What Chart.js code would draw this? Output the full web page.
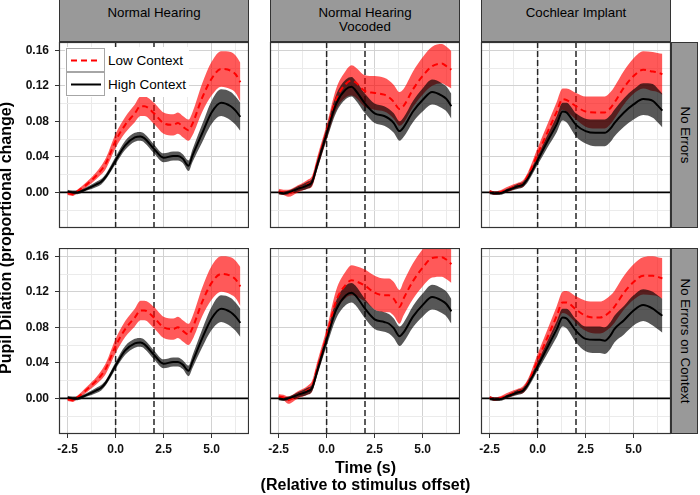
<!DOCTYPE html>
<html>
<head>
<meta charset="utf-8">
<script src="https://cdn.jsdelivr.net/npm/chart.js@4.4.0/dist/chart.umd.min.js"></script>
<style>
  html, body { margin: 0; padding: 0; background: #fff; }
  #wrap { position: relative; width: 700px; height: 495px; overflow: hidden; font-family: "Liberation Sans", Arial, sans-serif; color: #000; }
  #wrap canvas { position: absolute; }
  .strip { position: absolute; background: #999; border: 1px solid #333; box-sizing: border-box; font-size: 13.3px; line-height: 14px; text-align: center; }
  .rstrip-text { position: absolute; width: 180px; height: 14px; font-size: 13.3px; line-height: 14px; text-align: center; transform: rotate(90deg); white-space: nowrap; }
  .title { position: absolute; font-size: 16px; font-weight: bold; line-height: 17px; text-align: center; white-space: nowrap; }
  .legend-text { position: absolute; font-size: 13.5px; line-height: 16px; white-space: nowrap; }
</style>
</head>
<body>
<div id="wrap"></div>
<script>
// time axis (s, relative to stimulus offset) shared by every curve
const timePoints = [-2.5, -2.25, -2, -1.5, -1, -0.75, -0.5, 0, 0.5, 1, 1.3, 1.5, 2, 2.5, 3, 3.25, 3.5, 3.8, 4, 4.5, 5, 5.5, 6, 6.25, 6.5];

// Normal Hearing
const nhLowNoErr  = [-0.001, -0.002, 0.001, 0.009, 0.019, 0.025, 0.033, 0.058, 0.076, 0.089, 0.097, 0.097, 0.089, 0.078, 0.076, 0.078, 0.074, 0.070, 0.077, 0.106, 0.128, 0.139, 0.137, 0.133, 0.124];
const nhHighNoErr = [0.001, 0.000, 0.000, 0.004, 0.009, 0.012, 0.018, 0.036, 0.053, 0.062, 0.063, 0.061, 0.049, 0.039, 0.041, 0.041, 0.038, 0.030, 0.041, 0.066, 0.090, 0.101, 0.097, 0.092, 0.085];
const nhLowCtx    = [-0.001, -0.002, 0.001, 0.010, 0.020, 0.026, 0.034, 0.059, 0.078, 0.091, 0.099, 0.099, 0.091, 0.080, 0.078, 0.080, 0.076, 0.072, 0.079, 0.108, 0.130, 0.140, 0.138, 0.134, 0.126];
const nhHighCtx   = [0.001, 0.000, 0.000, 0.004, 0.009, 0.012, 0.018, 0.037, 0.054, 0.062, 0.063, 0.061, 0.049, 0.039, 0.041, 0.041, 0.038, 0.031, 0.041, 0.067, 0.090, 0.101, 0.097, 0.092, 0.085];
const nhLowSE     = [0.002, 0.002, 0.002, 0.003, 0.004, 0.005, 0.006, 0.008, 0.009, 0.010, 0.011, 0.011, 0.012, 0.012, 0.012, 0.012, 0.012, 0.012, 0.013, 0.016, 0.019, 0.020, 0.021, 0.021, 0.022];
const nhHighSE    = [0.002, 0.002, 0.002, 0.002, 0.003, 0.003, 0.003, 0.004, 0.005, 0.005, 0.005, 0.005, 0.005, 0.005, 0.005, 0.005, 0.005, 0.006, 0.007, 0.010, 0.013, 0.015, 0.016, 0.016, 0.016];

// Normal Hearing Vocoded
const nhvLowNoErr  = [0.001, 0.000, -0.001, 0.004, 0.009, 0.013, 0.032, 0.068, 0.105, 0.122, 0.126, 0.124, 0.114, 0.112, 0.110, 0.107, 0.102, 0.094, 0.097, 0.116, 0.131, 0.142, 0.145, 0.142, 0.138];
const nhvHighNoErr = [0.000, -0.001, 0.000, 0.004, 0.008, 0.012, 0.030, 0.066, 0.100, 0.116, 0.119, 0.115, 0.100, 0.089, 0.086, 0.083, 0.078, 0.069, 0.073, 0.091, 0.104, 0.113, 0.109, 0.105, 0.097];
const nhvLowCtx    = [0.002, 0.001, -0.002, 0.004, 0.009, 0.014, 0.033, 0.070, 0.110, 0.128, 0.133, 0.132, 0.127, 0.119, 0.116, 0.116, 0.112, 0.103, 0.112, 0.132, 0.147, 0.158, 0.159, 0.156, 0.151];
const nhvHighCtx   = [0.000, -0.001, 0.000, 0.004, 0.008, 0.012, 0.030, 0.066, 0.100, 0.116, 0.119, 0.116, 0.101, 0.089, 0.086, 0.084, 0.079, 0.070, 0.074, 0.092, 0.105, 0.114, 0.110, 0.106, 0.098];
const nhvLowSE     = [0.003, 0.003, 0.004, 0.004, 0.005, 0.006, 0.007, 0.008, 0.012, 0.015, 0.017, 0.017, 0.018, 0.019, 0.019, 0.019, 0.019, 0.019, 0.019, 0.020, 0.021, 0.022, 0.022, 0.022, 0.021];
const nhvHighSE    = [0.002, 0.002, 0.002, 0.003, 0.004, 0.004, 0.005, 0.007, 0.010, 0.011, 0.011, 0.011, 0.011, 0.011, 0.011, 0.011, 0.011, 0.011, 0.011, 0.012, 0.013, 0.014, 0.014, 0.014, 0.014];

// Cochlear Implant
const ciLowNoErr  = [0.001, -0.001, 0.000, 0.004, 0.008, 0.010, 0.019, 0.043, 0.067, 0.091, 0.105, 0.104, 0.097, 0.091, 0.090, 0.090, 0.090, 0.095, 0.101, 0.118, 0.131, 0.138, 0.136, 0.135, 0.133];
const ciHighNoErr = [0.000, -0.001, -0.001, 0.003, 0.007, 0.009, 0.016, 0.036, 0.057, 0.077, 0.091, 0.090, 0.076, 0.069, 0.067, 0.067, 0.067, 0.072, 0.078, 0.090, 0.099, 0.105, 0.103, 0.098, 0.092];
const ciLowCtx    = [0.001, -0.001, 0.000, 0.004, 0.008, 0.010, 0.018, 0.043, 0.068, 0.093, 0.108, 0.108, 0.100, 0.093, 0.091, 0.091, 0.093, 0.098, 0.103, 0.119, 0.131, 0.138, 0.138, 0.137, 0.135];
const ciHighCtx   = [0.000, -0.001, -0.001, 0.003, 0.007, 0.009, 0.016, 0.036, 0.057, 0.078, 0.091, 0.090, 0.076, 0.067, 0.066, 0.066, 0.065, 0.071, 0.078, 0.088, 0.099, 0.105, 0.101, 0.097, 0.093];
const ciLowSE     = [0.002, 0.002, 0.002, 0.003, 0.003, 0.004, 0.004, 0.007, 0.009, 0.011, 0.012, 0.013, 0.015, 0.017, 0.018, 0.018, 0.018, 0.018, 0.018, 0.019, 0.020, 0.021, 0.022, 0.022, 0.023];
const ciHighSE    = [0.002, 0.002, 0.002, 0.002, 0.003, 0.003, 0.004, 0.005, 0.007, 0.009, 0.010, 0.011, 0.013, 0.014, 0.015, 0.015, 0.015, 0.015, 0.015, 0.016, 0.017, 0.018, 0.019, 0.019, 0.019];

const colLabels = [['Normal Hearing'], ['Normal Hearing', 'Vocoded'], ['Cochlear Implant']];
const rowLabels = ['No Errors', 'No Errors on Context'];
const seriesNames = ['Low Context', 'High Context'];

const xMajor = [-2.5, 0, 2.5, 5];
const xMinor = [-1.25, 1.25, 3.75, 6.25];
const xTickLabels = ['-2.5', '0.0', '2.5', '5.0'];
const yMajor = [0, 0.04, 0.08, 0.12, 0.16];
const yMinor = [-0.02, 0.02, 0.06, 0.10, 0.14];
const yTickLabels = ['0.00', '0.04', '0.08', '0.12', '0.16'];
const markerTimes = [0, 2];   // dashed vertical lines

const panels = [
    { row: 0, col: 0, low: nhLowNoErr,  high: nhHighNoErr,  lowSE: nhLowSE,  highSE: nhHighSE },
    { row: 0, col: 1, low: nhvLowNoErr, high: nhvHighNoErr, lowSE: nhvLowSE, highSE: nhvHighSE },
    { row: 0, col: 2, low: ciLowNoErr,  high: ciHighNoErr,  lowSE: ciLowSE,  highSE: ciHighSE },
    { row: 1, col: 0, low: nhLowCtx,    high: nhHighCtx,    lowSE: nhLowSE,  highSE: nhHighSE },
    { row: 1, col: 1, low: nhvLowCtx,   high: nhvHighCtx,   lowSE: nhvLowSE, highSE: nhvHighSE },
    { row: 1, col: 2, low: ciLowCtx,    high: ciHighCtx,    lowSE: ciLowSE,  highSE: ciHighSE }
];

// layout (px)
const colLeft = [59, 270, 481];
const rowTop = [42, 248];
const panelW = 190, panelH = 186;
const axisW = 59, axisH = 30;
const X_MIN = -2.95, X_MAX = 6.95, Y_MIN = -0.0401, Y_MAX = 0.1693;

const RED = '#ff0000';
const RED_BAND = 'rgba(255, 0, 0, 0.65)';
const GREY_BAND = 'rgba(0, 0, 0, 0.66)';

const wrap = document.getElementById('wrap');

const near = (list, v) => list.findIndex(m => Math.abs(m - v) < 1e-6);

const line = mean => timePoints.map((t, i) => ({ x: t, y: mean[i] }));
const band = (mean, se, sign) => timePoints.map((t, i) => ({ x: t, y: mean[i] + sign * se[i] }));

// panel border
const panelFrame = {
    id: 'panelFrame',
    afterDraw(chart) {
        const { ctx, chartArea: a } = chart;
        ctx.save();
        ctx.strokeStyle = '#333';
        ctx.lineWidth = 1.2;
        ctx.strokeRect(a.left + 0.5, a.top + 0.5, a.width - 1, a.height - 1);
        ctx.restore();
    }
};

function makePanel(p) {
    const showX = p.row === 1;
    const showY = p.col === 0;

    const canvas = document.createElement('canvas');
    canvas.width = axisW + panelW;
    canvas.height = panelH + axisH;
    canvas.style.left = (colLeft[p.col] - axisW) + 'px';
    canvas.style.top = rowTop[p.row] + 'px';
    wrap.appendChild(canvas);

    const straight = { pointRadius: 0, tension: 0, cubicInterpolationMode: 'default', fill: false };

    const datasets = [
        { label: seriesNames[1], data: line(p.high), borderColor: '#000', borderWidth: 2, pointRadius: 0, fill: false, order: 0 },
        { label: seriesNames[0], data: line(p.low), borderColor: RED, borderWidth: 2, borderDash: [6, 4], pointRadius: 0, fill: false, order: 1 },
        { data: band(p.high, p.highSE, 1), borderWidth: 0, backgroundColor: GREY_BAND, pointRadius: 0, fill: '+1', order: 2 },
        { data: band(p.high, p.highSE, -1), borderWidth: 0, pointRadius: 0, fill: false, order: 3 },
        { data: band(p.low, p.lowSE, 1), borderWidth: 0, backgroundColor: RED_BAND, pointRadius: 0, fill: '+1', order: 4 },
        { data: band(p.low, p.lowSE, -1), borderWidth: 0, pointRadius: 0, fill: false, order: 5 },
        Object.assign({ data: [{ x: markerTimes[0], y: Y_MIN }, { x: markerTimes[0], y: Y_MAX }], borderColor: '#262626', borderWidth: 1.5, borderDash: [6, 3], order: 6 }, straight),
        Object.assign({ data: [{ x: markerTimes[1], y: Y_MIN }, { x: markerTimes[1], y: Y_MAX }], borderColor: '#262626', borderWidth: 1.5, borderDash: [6, 3], order: 7 }, straight),
        Object.assign({ data: [{ x: X_MIN, y: 0 }, { x: X_MAX, y: 0 }], borderColor: '#000', borderWidth: 1.8, order: 8 }, straight)
    ];

    new Chart(canvas, {
        type: 'line',
        data: { datasets: datasets },
        options: {
            responsive: false,
            animation: false,
            events: [],
            layout: { padding: 0 },
            elements: { line: { cubicInterpolationMode: 'monotone' } },
            plugins: { legend: { display: false }, tooltip: { enabled: false } },
            scales: {
                x: {
                    type: 'linear',
                    min: X_MIN,
                    max: X_MAX,
                    afterBuildTicks: s => { s.ticks = xMinor.concat(xMajor).sort((a, b) => a - b).map(v => ({ value: v })); },
                    afterFit: s => { s.height = axisH; s.paddingLeft = 0; s.paddingRight = 0; },
                    border: { display: false },
                    grid: {
                        color: c => (c.tick && near(xMajor, c.tick.value) >= 0) ? '#d2d2d2' : '#ebebeb',
                        tickColor: c => (showX && c.tick && near(xMajor, c.tick.value) >= 0) ? '#333' : 'rgba(0,0,0,0)',
                        tickLength: 4,
                        tickWidth: 1,
                        lineWidth: 1
                    },
                    ticks: {
                        display: showX,
                        autoSkip: false,
                        maxRotation: 0,
                        padding: 4,
                        color: '#111',
                        font: { family: 'Liberation Sans', size: 12, weight: 'bold' },
                        callback: v => { const i = near(xMajor, v); return i >= 0 ? xTickLabels[i] : ''; }
                    }
                },
                y: {
                    type: 'linear',
                    min: Y_MIN,
                    max: Y_MAX,
                    afterBuildTicks: s => { s.ticks = yMinor.concat(yMajor).sort((a, b) => a - b).map(v => ({ value: v })); },
                    afterFit: s => { s.width = axisW; s.paddingTop = 0; s.paddingBottom = 0; },
                    border: { display: false },
                    grid: {
                        color: c => (c.tick && near(yMajor, c.tick.value) >= 0) ? '#d2d2d2' : '#ebebeb',
                        tickColor: c => (showY && c.tick && near(yMajor, c.tick.value) >= 0) ? '#333' : 'rgba(0,0,0,0)',
                        tickLength: 4,
                        tickWidth: 1,
                        lineWidth: 1
                    },
                    ticks: {
                        display: showY,
                        autoSkip: false,
                        padding: 6,
                        color: '#111',
                        font: { family: 'Liberation Sans', size: 12, weight: 'bold' },
                        callback: v => { const i = near(yMajor, v); return i >= 0 ? yTickLabels[i] : ''; }
                    }
                }
            }
        },
        plugins: [panelFrame]
    });
}

panels.forEach(makePanel);

// facet strips on top
colLabels.forEach((lines, c) => {
    const d = document.createElement('div');
    d.className = 'strip';
    d.style.left = colLeft[c] + 'px';
    d.style.top = '-1px';
    d.style.width = panelW + 'px';
    d.style.height = '43px';
    d.style.paddingTop = '6px';
    d.innerHTML = lines.join('<br>');
    wrap.appendChild(d);
});

// facet strips on the right
rowLabels.forEach((label, r) => {
    const s = document.createElement('div');
    s.className = 'strip';
    s.style.left = (colLeft[2] + panelW) + 'px';
    s.style.top = rowTop[r] + 'px';
    s.style.width = '27px';
    s.style.height = panelH + 'px';
    wrap.appendChild(s);
    const t = document.createElement('div');
    t.className = 'rstrip-text';
    t.textContent = label;
    t.style.left = (685.2 - 90) + 'px';
    t.style.top = (rowTop[r] + panelH / 2 - 7) + 'px';
    wrap.appendChild(t);
});

// legend inside the first panel
(function () {
    const bg = document.createElement('div');
    bg.style.cssText = 'position:absolute;left:65px;top:47px;width:124px;height:50px;background:#fff;';
    wrap.appendChild(bg);
    const keys = [
        { top: 47.5, stroke: RED, dash: '6 4' },
        { top: 71.5, stroke: '#000', dash: '' }
    ];
    keys.forEach(k => {
        const box = document.createElement('div');
        box.style.cssText = 'position:absolute;left:65.5px;top:' + k.top + 'px;width:39px;height:24px;border:1px solid #a6a6a6;box-sizing:border-box;background:#fff;';
        box.innerHTML = '<svg width="37" height="22" style="position:absolute;left:0;top:0">' +
            '<line x1="4" y1="11.5" x2="34" y2="11.5" stroke="' + k.stroke + '" stroke-width="2"' +
            (k.dash ? ' stroke-dasharray="' + k.dash + '"' : '') + '/></svg>';
        wrap.appendChild(box);
    });
    seriesNames.forEach((name, i) => {
        const t = document.createElement('div');
        t.className = 'legend-text';
        t.textContent = name;
        t.style.left = '108px';
        t.style.top = (i === 0 ? 53.3 : 76.5) + 'px';
        wrap.appendChild(t);
    });
})();

// axis titles
const xTitle = document.createElement('div');
xTitle.className = 'title';
xTitle.style.left = (365.5 - 150) + 'px';
xTitle.style.top = '458.5px';
xTitle.style.width = '300px';
xTitle.innerHTML = 'Time (s)<br>(Relative to stimulus offset)';
wrap.appendChild(xTitle);

const yTitle = document.createElement('div');
yTitle.className = 'title';
yTitle.style.left = (5.5 - 200) + 'px';
yTitle.style.top = (238 - 9) + 'px';
yTitle.style.width = '400px';
yTitle.style.lineHeight = '18px';
yTitle.style.transform = 'rotate(-90deg)';
yTitle.textContent = 'Pupil Dilation (proportional change)';
wrap.appendChild(yTitle);
</script>
</body>
</html>
